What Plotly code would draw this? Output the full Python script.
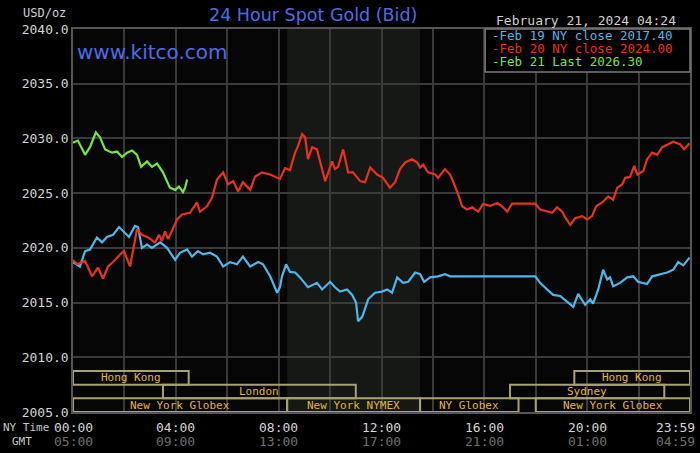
import plotly.graph_objects as go

# Feb 19 (blue) - hours since 00:00 NY time, price
feb19_hours = [0.00, 0.27, 0.47, 0.66, 0.93, 1.13, 1.32, 1.56, 1.79, 1.95, 2.18, 2.41, 2.53, 2.68,
               2.88, 3.07, 3.39, 3.66, 3.97, 4.16, 4.44, 4.63, 4.86, 5.06, 5.33, 5.60, 5.84, 6.11,
               6.38, 6.61, 6.89, 7.20, 7.39, 7.67, 7.82, 7.94, 8.05, 8.13, 8.29, 8.44, 8.64, 8.83,
               9.14, 9.49, 9.69, 9.81, 10.00, 10.19, 10.39, 10.66, 10.86, 11.01, 11.09, 11.25,
               11.48, 11.75, 12.02, 12.22, 12.41, 12.61, 12.84, 13.04, 13.31, 13.50, 13.66, 13.89,
               14.20, 14.47, 14.67, 17.98, 18.17, 18.44, 18.68, 18.95, 19.22, 19.46, 19.65, 19.92,
               20.12, 20.23, 20.43, 20.62, 20.78, 20.89, 21.01, 21.28, 21.56, 21.79, 21.98, 22.33,
               22.53, 22.84, 23.11, 23.35, 23.54, 23.74, 23.98]
feb19_price = [2018.7, 2018.3, 2019.7, 2019.85, 2020.95, 2020.5, 2021.0, 2021.2, 2021.9, 2021.5,
               2021.0, 2022.0, 2021.9, 2020.0, 2020.3, 2020.0, 2020.5, 2020.0, 2018.9, 2019.55,
               2019.85, 2019.2, 2019.7, 2019.4, 2019.55, 2019.2, 2018.3, 2018.7, 2018.5, 2019.2,
               2018.3, 2018.7, 2018.5, 2017.4, 2016.5, 2015.9, 2016.4, 2017.4, 2018.5, 2017.8,
               2017.75, 2017.3, 2016.4, 2016.8, 2016.2, 2016.5, 2016.9, 2016.4, 2016.0, 2016.2,
               2015.7, 2015.0, 2013.3, 2013.7, 2015.3, 2015.9, 2016.0, 2016.2, 2015.9, 2017.3,
               2016.8, 2016.9, 2017.75, 2017.6, 2016.9, 2017.3, 2017.4, 2017.6, 2017.4, 2017.4,
               2016.8, 2016.2, 2015.7, 2015.6, 2015.1, 2014.6, 2015.8, 2014.8, 2015.3, 2014.9,
               2016.2, 2018.0, 2017.1, 2017.3, 2016.5, 2016.8, 2017.3, 2017.4, 2016.9, 2016.7,
               2017.4, 2017.6, 2017.75, 2018.0, 2018.7, 2018.4, 2019.1]

# Feb 20 (red)
feb20_hours = [0.00, 0.16, 0.47, 0.74, 0.97, 1.17, 1.36, 1.56, 1.83, 1.98, 2.22, 2.33, 2.49, 2.68,
               2.92, 3.19, 3.35, 3.46, 3.58, 3.70, 4.05, 4.24, 4.55, 4.82, 4.94, 5.21, 5.41, 5.60,
               5.84, 6.03, 6.23, 6.42, 6.61, 6.89, 7.08, 7.35, 7.67, 8.05, 8.25, 8.44, 8.64, 8.75,
               8.91, 9.03, 9.14, 9.30, 9.49, 9.61, 9.81, 10.08, 10.19, 10.31, 10.51, 10.70, 10.89,
               11.17, 11.36, 11.56, 11.83, 12.06, 12.33, 12.53, 12.72, 12.92, 13.19, 13.39, 13.50,
               13.62, 13.81, 14.09, 14.20, 14.47, 14.67, 14.94, 15.14, 15.33, 15.53, 15.76, 15.95,
               16.23, 16.50, 16.69, 16.89, 17.08, 17.98, 18.17, 18.44, 18.64, 18.83, 19.03, 19.14,
               19.34, 19.53, 19.81, 20.00, 20.19, 20.35, 20.58, 20.82, 21.01, 21.17, 21.36, 21.48,
               21.67, 21.83, 21.95, 22.18, 22.33, 22.53, 22.72, 22.92, 23.11, 23.35, 23.62, 23.77,
               23.98]
feb20_price = [2018.9, 2018.5, 2018.8, 2017.4, 2018.2, 2017.2, 2018.3, 2018.7, 2019.4, 2019.7,
               2018.3, 2019.55, 2021.7, 2021.2, 2020.95, 2020.5, 2021.2, 2020.6, 2021.5, 2020.8,
               2022.6, 2023.05, 2023.2, 2024.15, 2023.3, 2023.8, 2024.6, 2026.25, 2026.9, 2025.8,
               2026.1, 2025.15, 2026.0, 2025.3, 2026.5, 2026.9, 2026.7, 2026.3, 2027.3, 2027.1,
               2028.7, 2029.3, 2030.4, 2030.1, 2028.1, 2029.2, 2029.0, 2027.9, 2026.1, 2027.9,
               2027.2, 2027.4, 2029.0, 2026.9, 2026.9, 2026.1, 2026.0, 2027.35, 2026.7, 2026.4,
               2025.5, 2026.0, 2027.2, 2027.8, 2028.1, 2027.8, 2027.35, 2027.6, 2026.9, 2026.7,
               2026.4, 2027.2, 2026.7, 2025.15, 2023.8, 2023.5, 2023.7, 2023.3, 2024.0, 2023.85,
               2024.1, 2023.8, 2023.3, 2024.05, 2024.05, 2023.5, 2023.3, 2023.2, 2023.7, 2023.3,
               2022.8, 2022.1, 2022.7, 2022.9, 2022.6, 2022.9, 2023.8, 2024.15, 2024.7, 2024.4,
               2025.5, 2025.8, 2026.4, 2026.5, 2027.5, 2026.7, 2027.0, 2028.1, 2028.7, 2028.5,
               2029.2, 2029.45, 2029.7, 2029.45, 2029.0, 2029.55]

# Feb 21 (green), up to 04:24
feb21_hours = [0.00, 0.19, 0.47, 0.66, 0.89, 1.05, 1.25, 1.52, 1.71, 1.91, 2.10, 2.30, 2.49, 2.65,
               2.88, 3.07, 3.27, 3.50, 3.77, 3.97, 4.12, 4.28, 4.36, 4.44]
feb21_price = [2029.6, 2029.8, 2028.5, 2029.2, 2030.55, 2030.1, 2029.0, 2028.7, 2028.8, 2028.3,
               2028.7, 2028.9, 2028.5, 2027.4, 2027.9, 2027.4, 2027.7, 2026.9, 2025.5, 2025.3,
               2025.6, 2025.1, 2025.5, 2026.25]

legend_labels = ["Feb 19 NY close 2017.40", "Feb 20 NY close 2024.00", "Feb 21 Last 2026.30"]
line_colors = ["#4cb8ea", "#e8321f", "#74e83a"]

ny_ticks = ["00:00", "04:00", "08:00", "12:00", "16:00", "20:00", "23:59"]
gmt_ticks = ["05:00", "09:00", "13:00", "17:00", "21:00", "01:00", "04:59"]
tick_hours = [0, 4, 8, 12, 16, 20, 24]

# trading sessions: name, row (0 = top), start hour, end hour
session_names = ["Hong Kong", "Hong Kong", "London", "Sydney",
                 "New York Globex", "New York NYMEX", "NY Globex", "New York Globex"]
session_rows = [0, 0, 1, 1, 2, 2, 2, 2]
session_start = [0, 19.5, 3.5, 17.0, 0, 8.33, 13.5, 18.0]
session_end = [4.5, 24, 11.0, 23.0, 8.33, 13.5, 17.33, 24]

pit_start, pit_end = 8.33, 13.5

mono = "DejaVu Sans Mono"
fig = go.Figure()

for hrs, px, col in [(feb19_hours, feb19_price, line_colors[0]),
                     (feb20_hours, feb20_price, line_colors[1]),
                     (feb21_hours, feb21_price, line_colors[2])]:
    fig.add_trace(go.Scatter(x=hrs, y=px, mode='lines',
                             line=dict(color=col, width=2.2), hoverinfo='skip'))

shapes = [dict(type='rect', xref='x', yref='paper', x0=pit_start, x1=pit_end, y0=0, y1=1,
               fillcolor='#161816', line_width=0, layer='below')]
annotations = []

row_bottom = [2007.5, 2006.25, 2005.0]
row_h = 1.25
for name, r, s, e in zip(session_names, session_rows, session_start, session_end):
    y0 = row_bottom[r]
    shapes.append(dict(type='rect', xref='x', yref='y', x0=s, x1=e, y0=y0, y1=y0 + row_h,
                       line=dict(color='#a8a272', width=2), fillcolor='rgba(0,0,0,0)',
                       layer='above'))
    annotations.append(dict(x=(s + e) / 2, y=y0 + row_h / 2, xref='x', yref='y', text=name,
                            showarrow=False, font=dict(family=mono, size=11, color='#e2b634')))

# legend box
shapes.append(dict(type='rect', xref='paper', yref='paper', x0=0.668, x1=1.0, y0=0.888, y1=1.0,
                   fillcolor='#000000', line=dict(color='#7a7a7a', width=1.5), layer='above'))
for i, (lab, col) in enumerate(zip(legend_labels, line_colors)):
    annotations.append(dict(x=0.676, y=0.982 - i * 0.034, xref='paper', yref='paper',
                            xanchor='left', yanchor='middle', text='-' + lab, showarrow=False,
                            font=dict(family=mono, size=12.5, color=col)))

# x labels, two rows
for i, (h, ny, gmt) in enumerate(zip(tick_hours, ny_ticks, gmt_ticks)):
    last = i == len(tick_hours) - 1
    for txt, shift, col in [(ny, -15, '#d6d6d6'), (gmt, -29, '#6e6e6e')]:
        annotations.append(dict(x=h, y=0, xref='x', yref='paper', text=txt, showarrow=False,
                                xanchor='right' if last else 'center', yanchor='middle',
                                xshift=7 if last else 0, yshift=shift,
                                font=dict(family=mono, size=13, color=col)))

annotations += [
    dict(x=0, y=0, xref='paper', yref='paper', text='NY Time', showarrow=False,
         xanchor='right', yanchor='middle', xshift=-22, yshift=-15,
         font=dict(family=mono, size=11, color='#c8c8c8')),
    dict(x=0, y=0, xref='paper', yref='paper', text='GMT', showarrow=False,
         xanchor='center', yanchor='middle', xshift=-51, yshift=-29,
         font=dict(family=mono, size=11, color='#c8c8c8')),
    dict(x=0, y=1, xref='paper', yref='paper', text='USD/oz', showarrow=False,
         xanchor='right', yanchor='middle', xshift=-5, yshift=16,
         font=dict(family=mono, size=12, color='#d0d0d0')),
    dict(x=0.389, y=1, xref='paper', yref='paper', text='24 Hour Spot Gold (Bid)',
         showarrow=False, xanchor='center', yanchor='middle', yshift=14,
         font=dict(family='DejaVu Sans', size=17.5, color='#4c6ce8')),
    dict(x=0.981, y=1, xref='paper', yref='paper', text='February 21, 2024 04:24',
         showarrow=False, xanchor='right', yanchor='middle', yshift=9,
         font=dict(family=mono, size=13, color='#d0d0d0')),
    dict(x=0.003, y=0.94, xref='paper', yref='paper', text='www.kitco.com',
         showarrow=False, xanchor='left', yanchor='middle',
         font=dict(family='DejaVu Sans', size=20, color='#4c6ce8')),
]

fig.update_layout(
    width=700, height=453,
    margin=dict(l=73, r=10, t=29, b=41, autoexpand=False),
    paper_bgcolor='#000000', plot_bgcolor='#060606',
    showlegend=False,
    shapes=shapes, annotations=annotations,
    xaxis=dict(range=[0, 24], tickvals=list(range(0, 24, 2)), showticklabels=False,
               showgrid=True, gridcolor='#3a3a3a', gridwidth=1.5, zeroline=False,
               showline=True, mirror=True, linecolor='#555555', linewidth=1.5, ticks='',
               automargin=False),
    yaxis=dict(range=[2005, 2040], tickvals=list(range(2005, 2041, 5)), tickformat='.1f',
               showgrid=True, gridcolor='#3a3a3a', gridwidth=1.5, zeroline=False,
               showline=True, mirror=True, linecolor='#555555', linewidth=1.5, ticks='',
               automargin=False, tickfont=dict(family=mono, size=13, color='#d4d4d4')),
)

# page body has a default 8px margin; remove it so the figure fills the window
fig.write_html("out.html", config={'displayModeBar': False},
               post_script="document.body.style.margin='0';")
